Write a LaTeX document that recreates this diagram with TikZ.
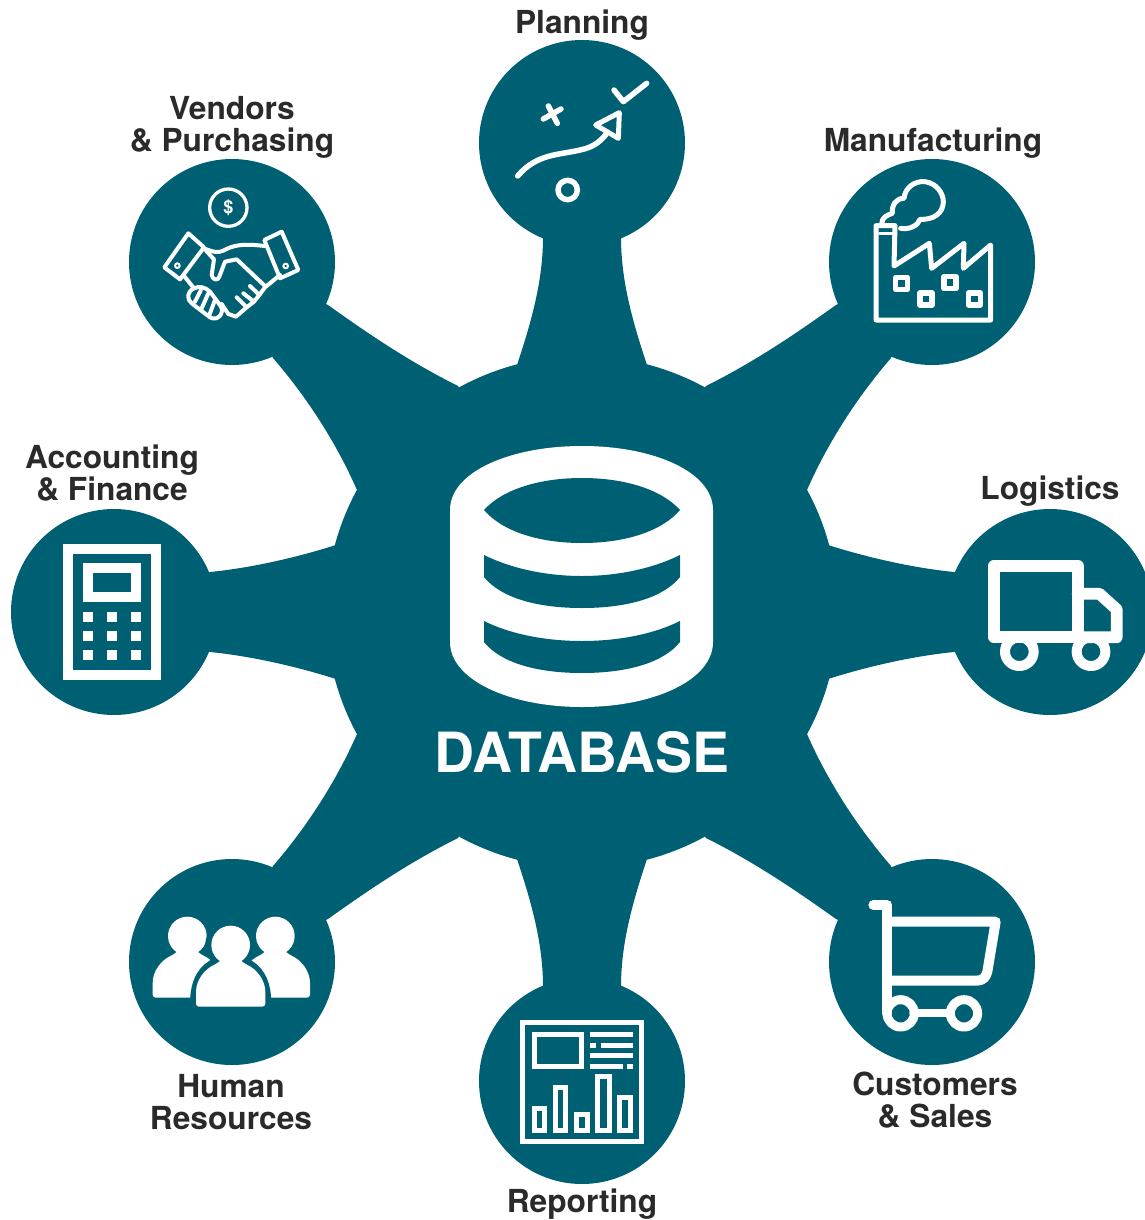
\documentclass[tikz,border=0pt]{standalone}
\usepackage{fontspec}
\setmainfont{TeX Gyre Heros}
\definecolor{dbteal}{HTML}{006073}
\definecolor{labelink}{HTML}{2A2A2A}
\tikzset{
  hub/.style={circle,fill=dbteal,draw=none,inner sep=0pt,minimum size=206pt},
  label text/.style={text=labelink,inner sep=0pt,align=center,font=\fontsize{31.7}{32}\selectfont\bfseries},
  wl/.style={draw=white,line cap=round,line join=round,line width=#1},
  wl/.default=4pt,
  ws/.style={draw=white,line join=miter,line width=#1},
  icon/.style args={#1/#2}{x=0.33333pt,y=-0.33333pt,shift={(#1pt,-#2pt)}},
}
\newcommand{\personshape}[3]{%
  \begin{scope}[shift={(#1pt,-#2pt)},x=0.33333pt,y=-0.33333pt]
    \ifnum#3=1
      \draw[draw=dbteal,line width=12pt,line join=round] (0,0) circle (58);
      \draw[draw=dbteal,fill=dbteal,line width=12pt,line join=round] (-104,178) .. controls (-104,105) and (-78,72) .. (-40,55) -- (40,55) .. controls (78,72) and (104,105) .. (104,178) -- cycle;
    \fi
    \fill[white] (0,0) circle (58);
    \fill[white,rounded corners=3pt] (-104,185) -- (-104,150) .. controls (-104,105) and (-78,72) .. (-40,55) -- (-26,42) -- (26,42) -- (40,55) .. controls (78,72) and (104,105) .. (104,150) -- (104,185) -- cycle;
  \end{scope}}
\begin{document}
\begin{tikzpicture}[x=1pt,y=-1pt]
\useasboundingbox (0,0) rectangle (1145,1220);
\clip (0,0) rectangle (1145,1220);
\fill[white] (0,0) rectangle (1145,1220);

% arms
\foreach \s in {1,-1}{
  \begin{scope}[shift={(582pt,-612pt)},yscale=\s]
    \fill[dbteal] (0,0) -- (-65,-247) .. controls (-50,-292) and (-39,-332) .. (-39,-375) -- (0,-469) -- (39,-375) .. controls (39,-332) and (50,-292) .. (65,-247) -- cycle;
    \fill[dbteal] (0,0) -- (-124,-226) .. controls (-172,-250) and (-212,-277) .. (-254,-307) -- (-350,-350) -- (-309,-254) .. controls (-277,-217) and (-247,-172) .. (-225,-122) -- cycle;
    \fill[dbteal] (0,0) -- (124,-226) .. controls (172,-250) and (212,-277) .. (254,-307) -- (350,-350) -- (309,-254) .. controls (277,-217) and (247,-172) .. (225,-122) -- cycle;
  \end{scope}
}
\fill[dbteal] (582,612) -- (336,545) .. controls (295,558) and (250,568) .. (210,572) -- (114,612) -- (210,652) .. controls (250,656) and (295,666) .. (336,679) -- cycle;
\fill[dbteal] (582,612) -- (828,545) .. controls (869,558) and (914,568) .. (954,572) -- (1050,612) -- (954,652) .. controls (914,656) and (869,666) .. (828,679) -- cycle;

\node[hub,minimum size=512pt] (core) at (582,612) {};
\node[hub] (planning) at (582,143) {};
\node[hub] (vendors) at (232,262) {};
\node[hub] (manufacturing) at (932,262) {};
\node[hub] (accounting) at (114,612) {};
\node[hub] (logistics) at (1050,612) {};
\node[hub] (human) at (232,962) {};
\node[hub] (customers) at (932,962) {};
\node[hub] (reporting) at (582,1081) {};

% database icon
\fill[white] (450,510) .. controls (450,472) and (510,446) .. (582,446) .. controls (654,446) and (713,472) .. (713,510) -- (713,642) .. controls (713,680) and (654,707) .. (582,707) .. controls (510,707) and (450,680) .. (450,642) -- cycle;
\fill[dbteal] (484,510) .. controls (502,490) and (538,478) .. (582,478) .. controls (626,478) and (662,490) .. (680,510) .. controls (662,531) and (626,543) .. (582,543) .. controls (538,543) and (502,531) .. (484,510) -- cycle;
\fill[dbteal] (484,555) .. controls (510,568) and (545,576) .. (582,576) .. controls (619,576) and (654,568) .. (680,555) -- (680,577) .. controls (664,597) and (629,608) .. (582,608) .. controls (535,608) and (500,597) .. (484,577) -- cycle;
\fill[dbteal] (484,621) .. controls (510,634) and (545,641) .. (582,641) .. controls (619,641) and (654,634) .. (680,621) -- (680,642) .. controls (664,662) and (629,673) .. (582,673) .. controls (535,673) and (500,662) .. (484,642) -- cycle;
\node[text=white,inner sep=0pt,anchor=base,font=\fontsize{55.4}{55.4}\selectfont\bfseries] (dbtitle) at (582,772) {DATABASE};

% labels
\node[label text] (lplanning) at (582,25) {Planning};
\node[label text] (lvendors) at (232,127) {Vendors\\\& Purchasing};
\node[label text] (lmanufacturing) at (933,143) {Manufacturing};
\node[label text] (laccounting) at (112,473) {Accounting\\\& Finance};
\node[label text] (llogistics) at (1050,491) {Logistics};
\node[label text] (lhuman) at (231,1102) {Human\\Resources};
\node[label text] (lcustomers) at (935,1100) {Customers\\\& Sales};
\node[label text] (lreporting) at (582,1204) {Reporting};

% handshake
\begin{scope}[icon=130/160]
  \draw[wl=3.3pt] (295,143) circle (56);
  \node[text=white,inner sep=0pt,font=\fontsize{18}{18}\selectfont\bfseries] (dollar) at (295,143) {\$};
  \draw[wl] (175,220) -- (222,262) -- (150,358) -- (103,322) -- cycle;
  \draw[wl] (455,215) -- (505,330) -- (450,355) -- (403,240) -- cycle;
  \draw[wl=2pt] (142,317) circle (7);
  \draw[wl=2pt] (467,318) circle (7);
  \draw[wl] (222,265) .. controls (245,275) and (265,280) .. (280,272) .. controls (310,255) and (340,250) .. (403,258);
  \draw[wl] (228,272) -- (252,298) -- (245,345) .. controls (248,362) and (265,362) .. (268,350) -- (285,305) -- (320,298) -- (405,378);
  \draw[wl] (450,345) -- (405,382) -- (388,405) -- (360,378);
  \draw[wl] (388,405) -- (372,425) -- (340,400);
  \draw[wl] (372,425) -- (350,442) -- (320,412);
  \draw[wl] (350,442) -- (318,470) -- (295,462) -- (275,432);
  \draw[wl] (160,345) -- (192,385);
  \draw[wl] (192,385) .. controls (170,395) and (170,418) .. (185,430) -- (240,472) .. controls (262,485) and (285,460) .. (272,438) -- (240,395) .. controls (225,380) and (205,378) .. (192,385);
  \draw[wl] (212,392) -- (195,425);
  \draw[wl] (235,400) -- (215,445);
  \draw[wl] (255,420) -- (238,465);
\end{scope}

% planning
\begin{scope}[icon=480/40]
  \draw[wl=5.5pt] (190,237) -- (243,207);
  \draw[wl=5.5pt] (205,198) -- (232,250);
  \draw[wl=5.5pt] (263,450) circle (29);
  \draw[wl=5.5pt] (402,150) -- (430,185) -- (500,130);
  \draw[wl=5.5pt] (113,408) .. controls (170,340) and (240,345) .. (300,330) .. controls (340,322) and (360,305) .. (378,283);
  \draw[wl=5pt] (418,218) -- (347,255) -- (415,295) -- cycle;
\end{scope}

% factory
\begin{scope}[icon=830/160]
  \draw[wl=5pt] (138,197) -- (195,197) -- (192,318) -- (298,250) -- (305,325) -- (402,250) -- (400,325) -- (482,255) -- (482,480) -- (138,480) -- cycle;
  \draw[wl=3pt] (148,220) -- (190,220);
  \draw[wl=5pt] (155,192) .. controls (155,172) and (172,165) .. (187,160) .. controls (185,132) and (200,115) .. (222,115) .. controls (225,82) and (255,62) .. (285,65) .. controls (320,70) and (340,100) .. (340,125) .. controls (340,160) and (310,180) .. (270,178) .. controls (265,195) and (240,210) .. (212,205);
  \draw[wl=5.3pt] (197,352) rectangle (233,388);
  \draw[wl=5.3pt] (270,399) rectangle (306,435);
  \draw[wl=5.3pt] (342,350) rectangle (378,386);
  \draw[wl=5.3pt] (415,399) rectangle (451,435);
\end{scope}

% calculator
\begin{scope}[icon=10/510]
  \draw[ws=10pt] (175,117) rectangle (437,495);
  \draw[ws=10pt] (233,175) rectangle (377,262);
  \foreach \bx in {233,306,378}{\foreach \by in {320,378,436}{
    \fill[white] (\bx-15,\by-15) rectangle (\bx+15,\by+15);}}
\end{scope}

% truck
\begin{scope}[icon=940/510]
  \draw[wl=10pt] (238,425) circle (43);
  \draw[wl=10pt] (453,425) circle (43);
  \draw[wl=11.7pt] (162,167) -- (413,167) -- (413,382) -- (162,382) -- cycle;
  \draw[wl=11.7pt] (413,251) -- (478,251) -- (530,298) -- (530,382) -- (413,382);
\end{scope}

% people
\personshape{187.33}{936}{0}
\personshape{275.33}{936}{0}
\personshape{230.67}{945}{1}

% cart
\begin{scope}[icon=830/860]
  \draw[wl=10pt] (130,135) -- (172,135) -- (172,460);
  \draw[wl=10pt] (172,185) -- (497,185) -- (472,335) .. controls (468,352) and (458,362) .. (440,362) -- (172,362);
  \draw[wl=9pt] (212,460) circle (41);
  \draw[wl=9pt] (402,460) circle (41);
  \draw[wl=8pt] (250,460) -- (362,460);
\end{scope}

% reporting
\begin{scope}[icon=480/980]
  \draw[ws=4.5pt] (128,128) rectangle (484,484);
  \draw[ws=5pt] (162,162) rectangle (305,258);
  \foreach \ly/\la/\lb in {163/330/458,195/362/458,227/330/458,258/330/428}{
    \draw[ws=5pt] (\la,\ly) -- (\lb,\ly);}
  \draw[ws=5pt] (330,195) -- (347,195);
  \draw[ws=5pt] (442,258) -- (458,258);
  \foreach \ba/\bb/\bc in {155/378/202,218/315/265,282/395/330,346/282/395,410/346/458}{
    \draw[ws=5pt] (\ba+7.5,\bb+7.5) rectangle (\bc-7.5,450.5);}
\end{scope}
\end{tikzpicture}
\end{document}
